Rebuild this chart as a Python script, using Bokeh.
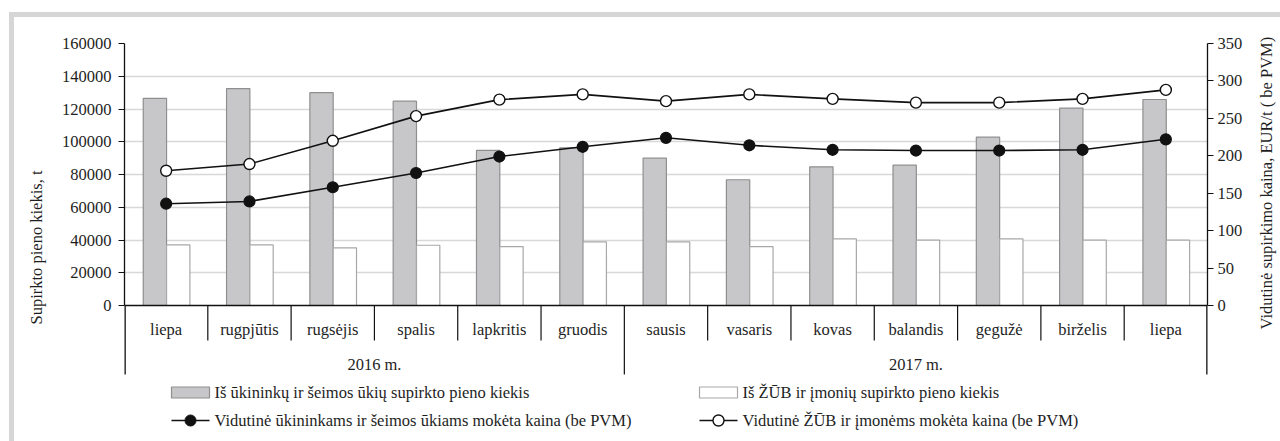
import numpy as np
from bokeh.plotting import figure
from bokeh.models import Range1d, LinearAxis, FixedTicker, NumeralTickFormatter
from bokeh.core.properties import value
from bokeh.embed import file_html
from bokeh.resources import INLINE

# ---------------- data ----------------
months = ["liepa", "rugpjūtis", "rugsėjis", "spalis", "lapkritis", "gruodis",
          "sausis", "vasaris", "kovas", "balandis", "gegužė", "birželis", "liepa"]
years = ["2016 m.", "2017 m."]
year_span = [(0, 6), (6, 13)]
farm_qty = [126500, 132500, 130000, 124800, 94700, 96300, 90000, 76800,
            84700, 85700, 102800, 120500, 125800]
coop_qty = [37000, 37000, 35200, 36800, 36000, 38900, 38900, 36000,
            40700, 39900, 40700, 39900, 39900]
farm_price = [136, 139, 158, 177, 199, 212, 224, 214, 208, 207, 207, 208, 222]
coop_price = [180, 189, 220, 253, 275, 282, 273, 282, 276, 271, 271, 276, 288]
left_ticks = list(range(0, 160001, 20000))
right_ticks = list(range(0, 351, 50))

legend_labels = ["Iš ūkininkų ir šeimos ūkių supirkto pieno kiekis",
                 "Iš ŽŪB ir įmonių supirkto pieno kiekis",
                 "Vidutinė ūkininkams ir šeimos ūkiams mokėta kaina (be PVM)",
                 "Vidutinė ŽŪB ir įmonėms mokėta kaina (be PVM)"]
left_title = "Supirkto pieno kiekis, t"
right_title = "Vidutinė supirkimo kaina, EUR/t ( be PVM)"

# ---------------- layout ----------------
FONT = "Liberation Serif"
FS = "16.5px"
TXT = "#1e1e1e"
BORDER = 5
W, H = 1293, 598                    # host size (grey border included)
ML, MR, MT = 110, 100, 26
FW, FH = W - ML - MR, H - MT
PLOT_PX = 262                       # px between 160000 and 0
LMAX, RMAX = 160000, 350
n = len(months)

def yv(px_below_zero):
    return -px_below_zero * LMAX / PLOT_PX

def xv(px_from_left):
    return px_from_left * n / FW

Y0 = LMAX - FH * LMAX / PLOT_PX
R0 = RMAX - FH * RMAX / PLOT_PX

p = figure(width=W, height=H, x_range=Range1d(0, n), y_range=Range1d(Y0, LMAX),
           x_axis_location=None, toolbar_location=None, output_backend="svg",
           min_border_left=ML, min_border_right=MR, min_border_top=MT,
           min_border_bottom=0, margin=(12, 0, 0, 9),
           styles={"border-top": f"{BORDER}px solid #d6d6d6",
                   "border-left": f"{BORDER}px solid #d6d6d6"})
p.title.visible = False
p.outline_line_color = None
p.background_fill_color = "white"
p.border_fill_color = "white"
p.extra_y_ranges = {"right": Range1d(R0, RMAX)}

# grid
p.xgrid.visible = False
p.ygrid.ticker = FixedTicker(ticks=left_ticks[1:])
p.ygrid.grid_line_color = "#d8d8d8"
p.ygrid.grid_line_width = 1.6

def style_axis(ax, standoff):
    ax.axis_line_color = "#111111"
    ax.axis_line_width = 1.3
    ax.major_tick_line_color = "#111111"
    ax.major_tick_line_width = 1.2
    ax.major_tick_out = 6
    ax.major_tick_in = 0
    ax.minor_tick_line_color = None
    ax.major_label_text_font = FONT
    ax.major_label_text_font_size = FS
    ax.major_label_text_color = TXT
    ax.major_label_standoff = standoff
    ax.formatter = NumeralTickFormatter(format="0")

yl = p.yaxis[0]
yl.ticker = FixedTicker(ticks=left_ticks)
yl.bounds = (0, LMAX)
style_axis(yl, 7)

# left axis title: centred on the value area (between 0 and 160000)
lt_pos = LMAX * (306 - 171) / PLOT_PX
lt = LinearAxis(ticker=FixedTicker(ticks=[lt_pos]),
                major_label_overrides={lt_pos: left_title})
lt.axis_line_color = None
lt.major_tick_line_color = None
lt.minor_tick_line_color = None
lt.major_tick_out = 0
lt.major_tick_in = 0
lt.major_label_text_font = FONT
lt.major_label_text_font_size = FS
lt.major_label_text_color = TXT
lt.major_label_standoff = 22
lt.major_label_orientation = np.pi / 2
p.add_layout(lt, "left")

# right axis with its title (the title starts at the frame's vertical centre)
yr = LinearAxis(y_range_name="right", ticker=FixedTicker(ticks=right_ticks),
                bounds=(0, RMAX))
style_axis(yr, 4)
yr.axis_label = right_title
yr.axis_label_text_font = FONT
yr.axis_label_text_font_size = FS
yr.axis_label_text_font_style = "normal"
yr.axis_label_text_color = TXT
yr.axis_label_standoff = 21
yr.axis_label_orientation = np.pi / 2
p.add_layout(yr, "right")

# bars
centers = np.arange(n) + 0.5
p.vbar(x=centers - 0.135, top=farm_qty, width=0.28, bottom=0,
       fill_color="#c7c7c9", line_color="#8f8f8f", line_width=1.2)
p.vbar(x=centers + 0.145, top=coop_qty, width=0.28, bottom=0,
       fill_color="white", line_color="#a8a8a8", line_width=1.2)

# zero line
p.segment(x0=[0], y0=[0], x1=[n], y1=[0], line_color="#111111", line_width=1.3)

# price lines
p.line(centers, farm_price, y_range_name="right", line_color="#111111", line_width=1.6)
p.scatter(centers, farm_price, y_range_name="right", size=11, marker="circle",
          fill_color="#111111", line_color="#111111", line_width=1.2)
p.line(centers, coop_price, y_range_name="right", line_color="#111111", line_width=1.6)
p.scatter(centers, coop_price, y_range_name="right", size=11, marker="circle",
          fill_color="white", line_color="#111111", line_width=1.4)

# category separators and axis extensions below zero
short_b = [b for b in range(1, n) if b != 6]
p.segment(x0=short_b, y0=[0] * len(short_b), x1=short_b, y1=[yv(35)] * len(short_b),
          line_color="#111111", line_width=1.2)
p.segment(x0=[6], y0=[0], x1=[6], y1=[yv(69)], line_color="#111111", line_width=1.2)
p.segment(x0=[0, n], y0=[0, 0], x1=[0, n], y1=[yv(69), yv(69)],
          line_color="#111111", line_width=2.6)

# category labels
p.text(x=centers, y=[yv(24)] * n, text=months, text_font=value(FONT),
       text_font_size=FS, text_color=TXT, text_align="center",
       text_baseline="middle")
# year labels
p.text(x=[(a + b) / 2 for a, b in year_span], y=[yv(59)] * 2, text=years,
       text_font=value(FONT), text_font_size=FS, text_color=TXT,
       text_align="center", text_baseline="middle")

# legend (drawn inside the frame)
r1, r2 = yv(87), yv(115)
c1, c2 = 47, 575
sw = 38
p.rect(x=[xv(c1 + sw / 2)], y=[r1], width=sw, height=11, width_units="screen",
       height_units="screen", fill_color="#c7c7c9", line_color="#8f8f8f", line_width=1.2)
p.rect(x=[xv(c2 + sw / 2)], y=[r1], width=sw, height=11, width_units="screen",
       height_units="screen", fill_color="white", line_color="#a8a8a8", line_width=1.2)
p.segment(x0=[xv(c1), xv(c2)], y0=[r2, r2], x1=[xv(c1 + sw), xv(c2 + sw)], y1=[r2, r2],
          line_color="#111111", line_width=1.6)
p.scatter(x=[xv(c1 + sw / 2)], y=[r2], size=11, fill_color="#111111", line_color="#111111")
p.scatter(x=[xv(c2 + sw / 2)], y=[r2], size=11, fill_color="white", line_color="#111111",
          line_width=1.4)
p.text(x=[xv(c1 + sw + 5), xv(c2 + sw + 5), xv(c1 + sw + 5), xv(c2 + sw + 5)],
       y=[r1, r1, r2, r2], text=legend_labels, text_font=value(FONT),
       text_font_size=FS, text_color=TXT, text_align="left", text_baseline="middle")

open("out.html", "w").write(file_html(p, INLINE))
